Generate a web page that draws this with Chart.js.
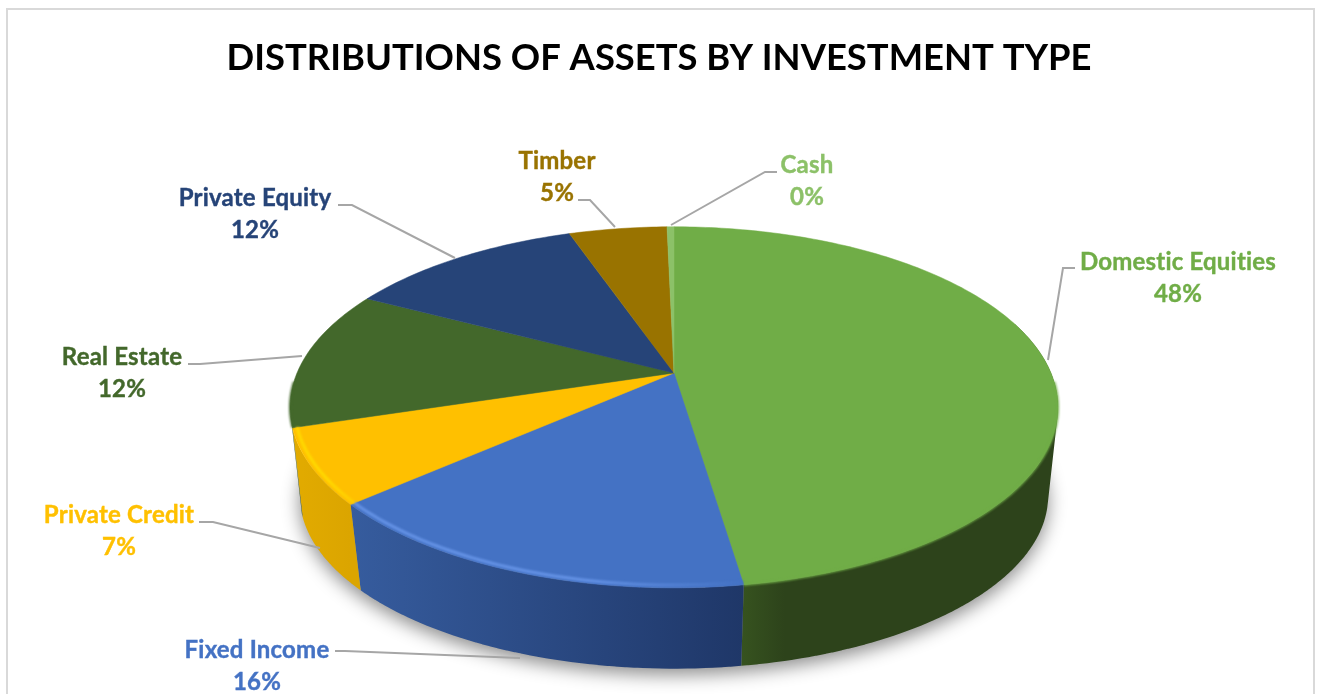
<!DOCTYPE html>
<html>
<head>
<meta charset="utf-8">
<title>Distributions of assets by investment type</title>
<script src="https://cdn.jsdelivr.net/npm/chart.js"></script>
<style>
  html, body { margin: 0; background: #fff; overflow: hidden; }
  #wrap { position: relative; width: 1318px; height: 694px; overflow: hidden; }
  #frame { position: absolute; left: 6px; top: 8px; width: 1305px; height: 800px; border: 2px solid #d9d9d9; }
  canvas { position: absolute; left: 0; top: 0; }
</style>
</head>
<body>
<div id="wrap">
  <div id="frame"></div>
  <canvas id="grafico" width="1318" height="694"></canvas>
</div>
<script>
const titulo = 'DISTRIBUTIONS OF ASSETS BY INVESTMENT TYPE';
const categorias = ['Domestic Equities', 'Fixed Income', 'Private Credit', 'Real Estate', 'Private Equity', 'Timber', 'Cash'];
const valores = [47.6, 15.9, 6.7, 12.49, 12.0, 4.96, 0.35];
const colores = ['#70ad47', '#4472c4', '#ffc000', '#43682b', '#264478', '#997300', '#8cc168'];

// pared lateral: color a la izquierda, punto donde llega al derecho y color a la derecha
const paredes = [
  ['#36521f', 0.85, '#2d431b'], ['#365c9e', 0, '#1f3768'], ['#e2ab00', 0, '#dba500'], ['#2f4a1e', 0, '#2f4a1e'],
  ['#1b3056', 0, '#1b3056'], ['#6b5100', 0, '#6b5100'], ['#5f8a45', 0, '#5f8a45']
];
// brillo del borde frontal
const brillos = [null, ['#6593e6', '#4472c4'], ['#ffd900', '#ffd000'], null, null, null, null];

// posiciones de etiquetas y lineas guia
const etiquetas = [
  { x: 1178, y: 262, linea: [[1048, 360], [1063, 268], [1075, 268]] },
  { x: 257, y: 650, linea: [[520, 658], [345, 651], [335, 651]] },
  { x: 119, y: 515, linea: [[320, 548], [213, 522], [199, 522]] },
  { x: 122, y: 357, linea: [[302, 356], [200, 364], [188, 364]] },
  { x: 255, y: 198, linea: [[455, 258], [352, 205], [338, 205]] },
  { x: 557, y: 161, linea: [[615, 227], [590, 200], [578, 200]] },
  { x: 807, y: 165, linea: [[671, 225], [765, 172], [777, 172]] }
];

// perspectiva del disco: centro, radio y inclinacion
const disco = { cx: 674, cy: 373, r: 377, a: 174, t: 0.19 };
const base = { cx: 674, cy: 465, r: 368, a: 167, t: 0.18 };
const FRENTE_MIN = -0.3, FRENTE_MAX = 2.86;

function proyectar(d, angulo) {
  const x = Math.cos(angulo), y = Math.sin(angulo);
  const w = 1 - d.t * y;
  return [d.cx + d.r * x / w, d.cy + d.a * y / w];
}

function arco(ctx, d, desde, hasta, mover) {
  const pasos = Math.max(2, Math.ceil(Math.abs(hasta - desde) * 60));
  for (let i = 0; i <= pasos; i++) {
    const p = proyectar(d, desde + (hasta - desde) * i / pasos);
    if (i === 0 && mover) ctx.moveTo(p[0], p[1]);
    else ctx.lineTo(p[0], p[1]);
  }
}

// tramo visible de un trozo, los angulos de chart.js van de -90 a 270 grados
function tramoFrontal(t, min, max) {
  const desde = Math.max(t.startAngle, min), hasta = Math.min(t.endAngle, max);
  const extra = t.endAngle - Math.PI * 2;
  if (hasta > desde) return [desde, hasta];
  if (extra > min) return [min, extra];
  return null;
}

function pared(ctx, t, i) {
  const tramo = tramoFrontal(t, FRENTE_MIN, FRENTE_MAX);
  if (!tramo) return;
  const a = proyectar(disco, tramo[0]), b = proyectar(disco, tramo[1]);
  const g = ctx.createLinearGradient(Math.max(a[0], b[0]), 0, Math.min(a[0], b[0]), 0);
  g.addColorStop(0, paredes[i][2]);
  g.addColorStop(paredes[i][1], paredes[i][2]);
  g.addColorStop(1, paredes[i][0]);
  ctx.fillStyle = g;
  const paso = 0.02;
  // todas las franjas en un solo path para que no queden costuras
  ctx.beginPath();
  for (let an = tramo[0]; an < tramo[1]; an += paso) {
    const fin = Math.min(an + paso * 1.2, tramo[1]);
    let q = [proyectar(disco, an), proyectar(disco, fin), proyectar(base, fin), proyectar(base, an)];
    // misma orientacion en todas, si no se cancelan al rellenar
    let area = 0;
    q.forEach((p, n) => {
      const s = q[(n + 1) % 4];
      area += p[0] * s[1] - s[0] * p[1];
    });
    if (area < 0) q = q.reverse();
    ctx.moveTo(q[0][0], q[0][1]);
    ctx.lineTo(q[1][0], q[1][1]);
    ctx.lineTo(q[2][0], q[2][1]);
    ctx.lineTo(q[3][0], q[3][1]);
    ctx.closePath();
  }
  ctx.fill();
}

const pastel3d = {
  id: 'pastel3d',
  beforeDatasetDraw(chart) {
    const ctx = chart.ctx;
    const trozos = chart.getDatasetMeta(0).data;
    ctx.save();

    // sombra bajo el disco: la forma queda fuera del canvas, solo se ve la sombra
    ctx.save();
    ctx.shadowColor = 'rgba(0,0,0,0.45)';
    ctx.shadowBlur = 18;
    ctx.shadowOffsetX = 3000;
    ctx.shadowOffsetY = 6;
    ctx.translate(-3000, 0);
    ctx.fillStyle = '#000';
    ctx.beginPath();
    arco(ctx, base, 0, Math.PI * 2, true);
    ctx.closePath();
    ctx.fill();
    ctx.restore();

    trozos.forEach((t, i) => pared(ctx, t, i));

    // cara superior
    trozos.forEach((t, i) => {
      ctx.fillStyle = colores[i];
      ctx.strokeStyle = colores[i];
      ctx.lineWidth = 0.5;
      ctx.beginPath();
      ctx.moveTo(disco.cx, disco.cy);
      arco(ctx, disco, t.startAngle, t.endAngle, false);
      ctx.closePath();
      ctx.fill();
      ctx.stroke();
    });

    // borde suave y brillo, solo en el frente
    ctx.save();
    ctx.filter = 'blur(1.2px)';
    trozos.forEach((t, i) => {
      const tramo = tramoFrontal(t, 0.05, Math.PI - 0.05);
      if (!tramo) return;
      if (!brillos[i]) {
        ctx.strokeStyle = colores[i];
        ctx.lineWidth = 2;
        ctx.beginPath();
        arco(ctx, disco, tramo[0], tramo[1], true);
        ctx.stroke();
        return;
      }
      const a = proyectar(disco, tramo[0]), b = proyectar(disco, tramo[1]);
      const g = ctx.createLinearGradient(Math.min(a[0], b[0]), 0, Math.max(a[0], b[0]), 0);
      g.addColorStop(0, brillos[i][0]);
      g.addColorStop(0.6, brillos[i][0]);
      g.addColorStop(1, brillos[i][1]);
      ctx.strokeStyle = g;
      ctx.lineWidth = 3;
      const interior = { cx: disco.cx, cy: disco.cy, r: disco.r * 0.988, a: disco.a * 0.987, t: disco.t };
      ctx.beginPath();
      arco(ctx, interior, tramo[0], tramo[1], true);
      ctx.stroke();
    });
    ctx.restore();

    ctx.restore();
    return false;
  },
  afterDatasetsDraw(chart) {
    const ctx = chart.ctx;
    const suma = valores.reduce((s, v) => s + v, 0);
    ctx.save();
    ctx.textAlign = 'center';
    ctx.textBaseline = 'middle';
    ctx.font = 'bold 24px Lato';
    ctx.letterSpacing = '0.2px';
    categorias.forEach((nombre, i) => {
      const e = etiquetas[i];
      ctx.strokeStyle = '#a6a6a6';
      ctx.lineWidth = 2;
      ctx.beginPath();
      e.linea.forEach((p, n) => n ? ctx.lineTo(p[0], p[1]) : ctx.moveTo(p[0], p[1]));
      ctx.stroke();
      // un poco mas de cuerpo en el texto
      ctx.fillStyle = colores[i];
      ctx.strokeStyle = colores[i];
      ctx.lineWidth = 0.4;
      const pct = Math.round(valores[i] / suma * 100) + '%';
      ctx.fillText(nombre, e.x, e.y);
      ctx.strokeText(nombre, e.x, e.y);
      ctx.fillText(pct, e.x, e.y + 32);
      ctx.strokeText(pct, e.x, e.y + 32);
    });
    ctx.restore();
  }
};

new Chart(document.getElementById('grafico'), {
  type: 'pie',
  data: {
    labels: categorias,
    datasets: [{ data: valores, backgroundColor: colores, borderWidth: 0 }]
  },
  options: {
    responsive: false,
    animation: false,
    events: [],
    plugins: {
      legend: { display: false },
      tooltip: { enabled: false },
      title: {
        display: true,
        text: titulo,
        color: '#000',
        font: { family: 'Lato', size: 36.4, weight: 'bold' },
        padding: { top: 36, bottom: 10 }
      }
    }
  },
  plugins: [pastel3d]
});
</script>
</body>
</html>
